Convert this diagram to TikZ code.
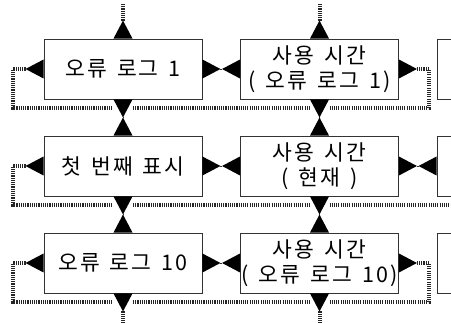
\documentclass[tikz,border=0pt]{standalone}
\usepackage{fontspec}
\newfontfamily\kr[LetterSpace=10]{Noto Sans CJK KR}
\newcommand\gap{\hspace{10pt}}
\tikzset{
  box/.style={draw=black!80, line width=0.9pt, minimum width=158pt, minimum height=60pt, inner sep=0pt,
    font=\kr\fontsize{21.5pt}{25pt}\selectfont, align=center, fill=white},
  hatch/.style={draw=black!85, line width=4pt, dash pattern=on 1.1pt off 1.1pt},
  thinlink/.style={draw=black!80, line width=0.6pt},
}
\newcommand\triU[1]{\fill ([xshift=-9.5pt]#1) -- ([xshift=9.5pt]#1) -- ([yshift=18pt]#1) -- cycle;}
\newcommand\triD[1]{\fill ([xshift=-9.5pt]#1) -- ([xshift=9.5pt]#1) -- ([yshift=-18pt]#1) -- cycle;}
\newcommand\triL[1]{\fill ([yshift=-9.5pt]#1) -- ([yshift=9.5pt]#1) -- ([xshift=-18pt]#1) -- cycle;}
\newcommand\triR[1]{\fill ([yshift=-9.5pt]#1) -- ([yshift=9.5pt]#1) -- ([xshift=18pt]#1) -- cycle;}
\begin{document}
\begin{tikzpicture}[x=1pt,y=-1pt]
\useasboundingbox (0,0) rectangle (451,323);
\clip (0,0) rectangle (451,323);
% boxes
\node[box] (a1) at (123,69) {오류\gap 로그\gap 1};
\node[box] (b1) at (319.5,69) {사용\gap 시간\\(\gap 오류\gap 로그\gap 1)};
\node[box] (c1) at (516,69) {};
\node[box] (a2) at (123,166) {첫\gap 번째\gap 표시};
\node[box] (b2) at (319.5,166) {사용\gap 시간\\(\gap 현재\gap )};
\node[box] (c2) at (516,166) {};
\node[box] (a3) at (123,263) {오류\gap 로그\gap 10};
\node[box] (b3) at (319.5,263) {사용\gap 시간\\(\gap 오류\gap 로그\gap 10)};
\node[box] (c3) at (516,263) {};
% apex coordinates
\foreach \n in {a1,b1,a2,b2,a3,b3}{
  \coordinate (\n-tn) at ([yshift=18pt]\n.north);
  \coordinate (\n-bs) at ([yshift=-18pt]\n.south);
  \coordinate (\n-lw) at ([xshift=-18pt]\n.west);
  \coordinate (\n-re) at ([xshift=18pt]\n.east);
}
\coordinate (c2-lw) at ([xshift=-18pt]c2.west);
% top and bottom stubs
\draw[hatch] (a1-tn) -- (123,4);
\draw[hatch] (b1-tn) -- (319.5,4);
\draw[hatch] (a3-bs) -- (123,323);
\draw[hatch] (b3-bs) -- (319.5,323);
% loop row 1
\draw[hatch] (a1-lw) -| (13,108) -- (113,108);
\draw[hatch] (133,108) -- (309.5,108);
\draw[hatch] (329.5,108) -- (429,108) |- (b1-re);
% loop row 2
\draw[hatch] (a2-lw) -| (13,205) -- (113,205);
\draw[hatch] (133,205) -- (309.5,205);
\draw[hatch] (329.5,205) -- (451,205);
% loop row 3
\draw[hatch] (a3-lw) -| (13,302) -- (113,302);
\draw[hatch] (133,302) -- (309.5,302);
\draw[hatch] (329.5,302) -- (429,302) |- (b3-re);
% thin links
\draw[thinlink] (a1-re) -- (b1-lw);
\draw[thinlink] (a2-re) -- (b2-lw);
\draw[thinlink] (b2-re) -- (c2-lw);
\draw[thinlink] (a3-re) -- (b3-lw);
\draw[thinlink] (a1-bs) -- (a2-tn);
\draw[thinlink] (b1-bs) -- (b2-tn);
\draw[thinlink] (a2-bs) -- (a3-tn);
\draw[thinlink] (b2-bs) -- (b3-tn);
% triangles
\foreach \n in {a1,b1,a2,b2,a3,b3}{
  \triU{\n.north}
  \triD{\n.south}
  \triL{\n.west}
  \triR{\n.east}
}
\triL{c2.west}
\end{tikzpicture}
\end{document}
